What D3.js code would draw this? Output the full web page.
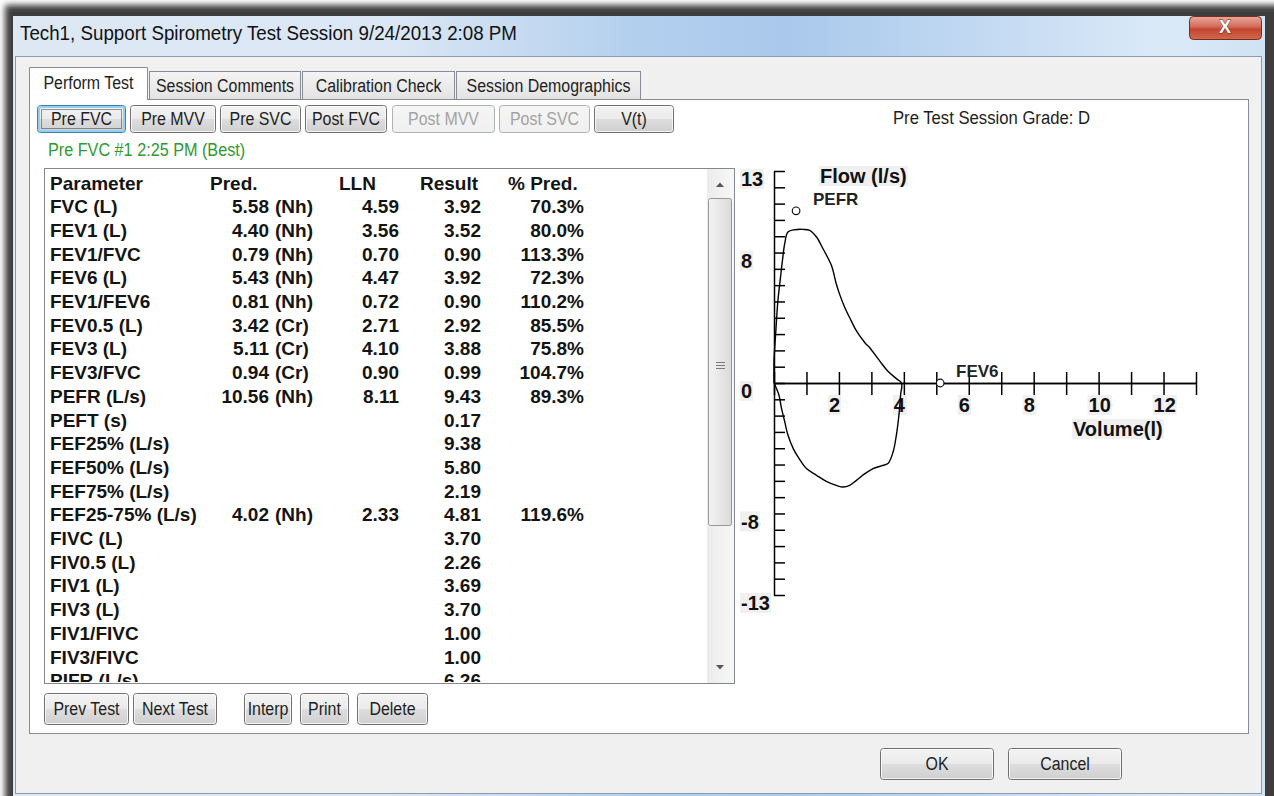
<!DOCTYPE html>
<html><head><meta charset="utf-8">
<script src="https://cdn.jsdelivr.net/npm/d3@7"></script>
<style>html,body{margin:0;padding:0;background:#fff;overflow:hidden}</style>
</head><body><svg id="c" width="1274" height="796"></svg>
<script>
// ---------------- DATA ----------------
const windowTitle = "Tech1, Support Spirometry Test Session 9/24/2013 2:08 PM";
const tabLabels = ["Perform Test", "Session Comments", "Calibration Check", "Session Demographics"];
const testButtons = ["Pre FVC", "Pre MVV", "Pre SVC", "Post FVC", "Post MVV", "Post SVC", "V(t)"];
const testButtonEnabled = [true, true, true, true, false, false, true];
const bottomButtons = ["Prev Test", "Next Test", "Interp", "Print", "Delete"];
const testCaption = "Pre FVC #1 2:25 PM (Best)";
const gradeCaption = "Pre Test Session Grade: D";

const tableHeader = ["Parameter", "Pred.", "LLN", "Result", "% Pred."];
const paramNames = ["FVC (L)", "FEV1 (L)", "FEV1/FVC", "FEV6 (L)", "FEV1/FEV6", "FEV0.5 (L)", "FEV3 (L)", "FEV3/FVC",
  "PEFR (L/s)", "PEFT (s)", "FEF25% (L/s)", "FEF50% (L/s)", "FEF75% (L/s)", "FEF25-75% (L/s)", "FIVC (L)", "FIV0.5 (L)",
  "FIV1 (L)", "FIV3 (L)", "FIV1/FIVC", "FIV3/FIVC", "PIFR (L/s)"];
const predValues = ["5.58", "4.40", "0.79", "5.43", "0.81", "3.42", "5.11", "0.94", "10.56", "", "", "", "", "4.02", "", "", "", "", "", "", ""];
const predSource = ["(Nh)", "(Nh)", "(Nh)", "(Nh)", "(Nh)", "(Cr)", "(Cr)", "(Cr)", "(Nh)", "", "", "", "", "(Nh)", "", "", "", "", "", "", ""];
const llnValues = ["4.59", "3.56", "0.70", "4.47", "0.72", "2.71", "4.10", "0.90", "8.11", "", "", "", "", "2.33", "", "", "", "", "", "", ""];
const resultValues = ["3.92", "3.52", "0.90", "3.92", "0.90", "2.92", "3.88", "0.99", "9.43", "0.17", "9.38", "5.80", "2.19", "4.81", "3.70", "2.26", "3.69", "3.70", "1.00", "1.00", "6.26"];
const pctPredValues = ["70.3%", "80.0%", "113.3%", "72.3%", "110.2%", "85.5%", "75.8%", "104.7%", "89.3%", "", "", "", "", "119.6%", "", "", "", "", "", "", ""];

// Flow-volume loop (volume in L, flow in L/s)
const expVolume = [0, 0, 0.05, 0.12, 0.20, 0.26, 0.33, 0.43, 0.64, 0.89, 1.10, 1.31, 1.51, 1.77, 1.92, 2.02, 2.18, 2.38, 2.54, 2.80, 2.95, 3.26, 3.51, 3.77, 3.93];
const expFlow   = [0, 1.34, 2.98, 5.04, 6.48, 7.51, 8.54, 9.26, 9.40, 9.42, 9.36, 8.95, 8.23, 7.20, 6.07, 5.45, 4.63, 3.81, 3.19, 2.47, 2.16, 1.34, 0.72, 0.27, 0];
const inspVolume = [3.90, 3.85, 3.77, 3.67, 3.51, 3.31, 3.05, 2.80, 2.54, 2.33, 2.13, 1.92, 1.61, 1.31, 1.00, 0.74, 0.59, 0.43, 0.33, 0.23, 0.15, 0.07, 0];
const inspFlow   = [-0.72, -1.95, -3.19, -4.22, -4.94, -5.08, -5.25, -5.56, -5.97, -6.28, -6.38, -6.28, -6.03, -5.66, -5.25, -4.53, -4.01, -3.19, -2.37, -1.54, -0.72, -0.31, 0];
const markerNames = ["PEFR", "FEV6"];
const markerVolume = [0.68, 5.12];
const markerFlow = [10.56, 0];

const xTickValues = d3.range(0, 14);
const yTickValues = d3.range(-13, 14);
const xTickLabels = [2, 4, 6, 8, 10, 12];
const yTickLabels = [13, 8, 0, -8, -13];
const xTitle = "Volume(l)";
const yTitle = "Flow (l/s)";

// ---------------- DRAWING ----------------
const svg = d3.select("#c");
const UI = "'Liberation Sans', Arial, sans-serif";
const defs = svg.append("defs");

function lin(id, stops, vertical = true) {
  const g = defs.append("linearGradient").attr("id", id)
    .attr("x1", 0).attr("y1", 0).attr("x2", vertical ? 0 : 1).attr("y2", vertical ? 1 : 0);
  stops.forEach(s => g.append("stop").attr("offset", s[0]).attr("stop-color", s[1]));
}
lin("title", [["0%", "#dde8f4"], ["30%", "#dbe7f5"], ["50%", "#b3cfee"], ["62%", "#a9c9ec"], ["80%", "#c7dcf3"], ["92%", "#dbeaf8"], ["100%", "#d0e2f4"]], false);
lin("btn", [["0%", "#f3f3f3"], ["48%", "#ebebeb"], ["52%", "#dddddd"], ["100%", "#cfcfcf"]]);
lin("btnDis", [["0%", "#f5f5f5"], ["100%", "#f0f0f0"]]);
lin("tab", [["0%", "#f4f4f4"], ["100%", "#e3e3e3"]]);
lin("close", [["0%", "#e9a99b"], ["45%", "#d36a58"], ["55%", "#c4452f"], ["100%", "#d06a4c"]]);
lin("thumb", [["0%", "#f4f4f4"], ["100%", "#dadada"]], false);
lin("track", [["0%", "#ececec"], ["100%", "#f7f7f7"]], false);
const blur = defs.append("filter").attr("id", "blur").attr("x", "-5%").attr("y", "-5%").attr("width", "110%").attr("height", "110%");
blur.append("feGaussianBlur").attr("stdDeviation", 3);

function text(g, x, cy, s, o = {}) {
  const size = o.size || 18;
  const t = g.append("text").attr("x", x).attr("y", cy + size * 0.36).text(s)
    .attr("font-family", o.family || UI).attr("font-size", size)
    .attr("font-weight", o.weight || "normal")
    .attr("fill", o.fill || "#1e1e1e").attr("text-anchor", o.anchor || "start");
  if (o.width) t.attr("textLength", o.width).attr("lengthAdjust", "spacingAndGlyphs");
  else if (o.condense) {
    const w = t.node().getComputedTextLength();
    t.attr("textLength", w * o.condense).attr("lengthAdjust", "spacingAndGlyphs");
  }
  return t;
}

// window shadow / frame
svg.append("rect").attr("x", 5).attr("y", 5).attr("width", 1290).attr("height", 820).attr("fill", "#3d3d3d").attr("filter", "url(#blur)");
svg.append("rect").attr("x", 13).attr("y", 16).attr("width", 1252).attr("height", 800).attr("fill", "url(#title)");
text(svg, 20, 33, windowTitle, { size: 20, width: 497, fill: "#111" });

// close button
svg.append("rect").attr("x", 1189.5).attr("y", 16.5).attr("width", 72).attr("height", 23).attr("rx", 4)
  .attr("fill", "url(#close)").attr("stroke", "#7a2b20");
text(svg, 1225, 27, "X", { size: 18, weight: "bold", anchor: "middle", fill: "#fff" })
  .attr("stroke", "#5a2a20").attr("stroke-width", 0.8).attr("paint-order", "stroke");

// client area
svg.append("rect").attr("x", 15.5).attr("y", 56.5).attr("width", 1246).attr("height", 737)
  .attr("fill", "#f0f0f0").attr("stroke", "#8e9bab");

// tab panel
svg.append("rect").attr("x", 29.5).attr("y", 99.5).attr("width", 1219).attr("height", 634)
  .attr("fill", "#fff").attr("stroke", "#898c95");

// tabs
const tabX = [29, 149, 302, 456];
const tabW = [119, 152, 153, 185];
tabLabels.forEach((l, i) => {
  if (i === 0) {
    svg.append("path").attr("d", `M${tabX[i] + 0.5},100 V67.5 H${tabX[i] + tabW[i] - 0.5} V100`)
      .attr("fill", "#fff").attr("stroke", "#898c95");
    svg.append("rect").attr("x", tabX[i] + 1).attr("y", 98).attr("width", tabW[i] - 2).attr("height", 3).attr("fill", "#fff");
    text(svg, tabX[i] + tabW[i] / 2, 83, l, { anchor: "middle", condense: 0.885 });
  } else {
    svg.append("rect").attr("x", tabX[i] + 0.5).attr("y", 71.5).attr("width", tabW[i] - 1).attr("height", 28)
      .attr("fill", "url(#tab)").attr("stroke", "#898c95");
    text(svg, tabX[i] + tabW[i] / 2, 86, l, { anchor: "middle", condense: 0.885 });
  }
});

function button(x, y, w, h, label, state) {
  const g = svg.append("g");
  const dis = state === "disabled";
  g.append("rect").attr("x", x + 0.5).attr("y", y + 0.5).attr("width", w - 1).attr("height", h - 1).attr("rx", 3)
    .attr("fill", dis ? "url(#btnDis)" : "url(#btn)").attr("stroke", state === "focus" ? "#3c7fb1" : (dis ? "#adb2b5" : "#707070"));
  if (state === "focus") {
    g.append("rect").attr("x", x + 2).attr("y", y + 2).attr("width", w - 4).attr("height", h - 4).attr("rx", 2)
      .attr("fill", "none").attr("stroke", "#8fd0f4").attr("stroke-width", 2);
    g.append("rect").attr("x", x + 4.5).attr("y", y + 4.5).attr("width", w - 9).attr("height", h - 9)
      .attr("fill", "none").attr("stroke", "#333").attr("stroke-dasharray", "1,1");
  } else if (!dis) {
    g.append("rect").attr("x", x + 1.5).attr("y", y + 1.5).attr("width", w - 3).attr("height", h - 3).attr("rx", 2)
      .attr("fill", "none").attr("stroke", "#fbfbfb").attr("stroke-opacity", 0.8);
  }
  text(g, x + w / 2, y + h / 2, label, { anchor: "middle", condense: 0.885, fill: dis ? "#a3a3a3" : "#1e1e1e" });
}

const tbX = [37, 130, 220, 305, 392, 499, 594];
const tbW = [89, 86, 81, 82, 103, 91, 80];
testButtons.forEach((l, i) => button(tbX[i], 105, tbW[i], 28, l, i === 0 ? "focus" : (testButtonEnabled[i] ? "normal" : "disabled")));

text(svg, 48, 150, testCaption, { fill: "#2f9a2f", condense: 0.9 });
text(svg, 893, 118, gradeCaption, { width: 197 });

const bbX = [44, 133, 244, 300, 357];
const bbW = [85, 84, 48, 49, 71];
bottomButtons.forEach((l, i) => button(bbX[i], 693, bbW[i], 32, l, "normal"));
button(880, 748, 114, 32, "OK", "normal");
button(1008, 748, 114, 32, "Cancel", "normal");

// ---------------- TABLE ----------------
svg.append("rect").attr("x", 44.5).attr("y", 168.5).attr("width", 690).attr("height", 515)
  .attr("fill", "#fff").attr("stroke", "#828790");
defs.append("clipPath").attr("id", "listClip").append("rect").attr("x", 45).attr("y", 169).attr("width", 662).attr("height", 513);
const tg = svg.append("g").attr("clip-path", "url(#listClip)")
  .attr("font-family", UI).attr("font-size", 19).attr("font-weight", "bold").attr("fill", "#141414");
const rowBase = i => 189.5 + 23.7 * i;
const hdrX = [50, 210, 339, 420, 508];
tableHeader.forEach((h, j) => tg.append("text").attr("x", hdrX[j]).attr("y", rowBase(0)).text(h));
paramNames.forEach((p, i) => {
  const y = rowBase(i + 1);
  tg.append("text").attr("x", 50).attr("y", y).text(p);
  if (predValues[i]) {
    tg.append("text").attr("x", 269).attr("y", y).attr("text-anchor", "end").text(predValues[i]);
    tg.append("text").attr("x", 275).attr("y", y).text(predSource[i]);
  }
  if (llnValues[i]) tg.append("text").attr("x", 399).attr("y", y).attr("text-anchor", "end").text(llnValues[i]);
  if (resultValues[i]) tg.append("text").attr("x", 481).attr("y", y).attr("text-anchor", "end").text(resultValues[i]);
  if (pctPredValues[i]) tg.append("text").attr("x", 584).attr("y", y).attr("text-anchor", "end").text(pctPredValues[i]);
});

// scrollbar
svg.append("rect").attr("x", 707).attr("y", 169).attr("width", 27).attr("height", 514).attr("fill", "url(#track)");
svg.append("path").attr("d", "M716,187 L720,182.5 L724,187 Z").attr("fill", "#555");
svg.append("path").attr("d", "M716,665 L720,669.5 L724,665 Z").attr("fill", "#555");
svg.append("rect").attr("x", 708.5).attr("y", 198.5).attr("width", 23).attr("height", 327).attr("rx", 2)
  .attr("fill", "url(#thumb)").attr("stroke", "#979797");
[362, 365, 368].forEach(y => svg.append("line").attr("x1", 716).attr("x2", 725).attr("y1", y + 0.5).attr("y2", y + 0.5).attr("stroke", "#7a7a7a"));

// ---------------- CHART ----------------
const x = d3.scaleLinear().domain([0, 13]).range([774, 1196]);
const y = d3.scaleLinear().domain([-13, 13]).range([595, 171]);
const cg = svg.append("g").attr("font-family", UI).attr("font-weight", "bold");

// x axis: ticks crossing the axis line
cg.append("g").attr("transform", `translate(0,${y(0)})`)
  .call(d3.axisBottom(x).tickValues(xTickValues).tickSizeInner(12).tickSizeOuter(0).tickFormat(""));
cg.append("g").attr("transform", `translate(0,${y(0)})`)
  .call(d3.axisTop(x).tickValues(xTickValues).tickSizeInner(11).tickSizeOuter(0).tickFormat(""));
// y axis
cg.append("g").attr("transform", `translate(${x(0)},0)`)
  .call(d3.axisRight(y).tickValues(yTickValues).tickSizeInner(11).tickSizeOuter(0).tickFormat(""));
cg.selectAll(".domain, .tick line").attr("stroke", "#000").attr("stroke-width", 1.5);

function boxedLabel(px, py, s, size, anchor = "start", bg = true) {
  const t = text(cg, px, py, s, { size, weight: "bold", fill: "#111", anchor });
  if (bg) {
    const b = t.node().getBBox();
    cg.insert("rect", () => t.node()).attr("x", b.x - 1).attr("y", py - 10).attr("width", b.width + 2).attr("height", 20).attr("fill", "#f0f0f0");
  }
  return t;
}
yTickLabels.forEach(v => boxedLabel(741, y(v) + 8, String(v), 20));
xTickLabels.forEach(v => boxedLabel(x(v) - 10, 405, String(v), 20));
boxedLabel(820, 176, yTitle, 20);
boxedLabel(1073, 429, xTitle, 20);

// loop
const loopPts = expVolume.map((v, i) => [v, expFlow[i]]).concat(inspVolume.map((v, i) => [v, inspFlow[i]]));
cg.append("path").datum(loopPts)
  .attr("d", d3.line().x(d => x(d[0])).y(d => y(d[1])).curve(d3.curveCatmullRom.alpha(0.5)))
  .attr("fill", "none").attr("stroke", "#000").attr("stroke-width", 1.4);

// markers
markerNames.forEach((n, i) => {
  cg.append("circle").attr("cx", x(markerVolume[i])).attr("cy", y(markerFlow[i])).attr("r", 3.8)
    .attr("fill", "#fff").attr("stroke", "#111").attr("stroke-width", 1.2);
});
text(cg, 813, 199, markerNames[0], { size: 17, weight: "bold", fill: "#222" });
text(cg, 956, 371, markerNames[1], { size: 17, weight: "bold", fill: "#222" });
</script></body></html>
